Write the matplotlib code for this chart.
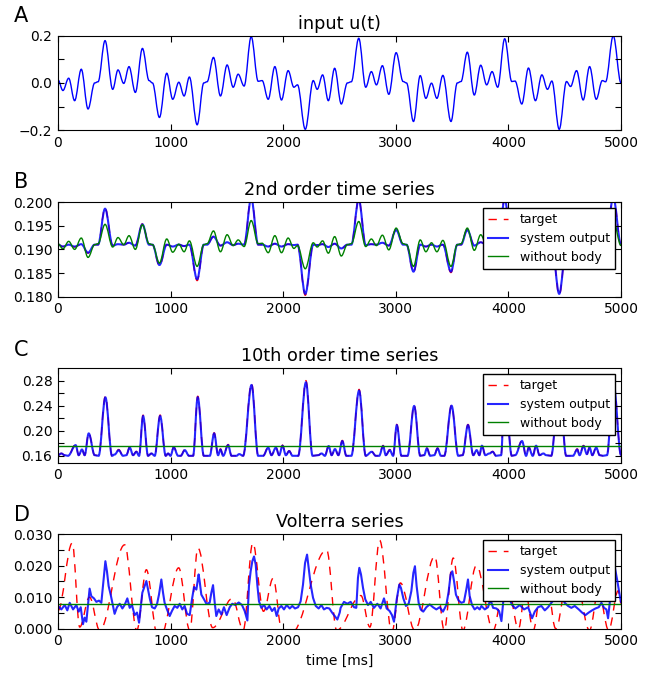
import matplotlib
matplotlib.use("Agg")
from matplotlib import pyplot as plt
from matplotlib.lines import Line2D
from matplotlib.patches import PathPatch
from matplotlib.path import Path

# ---- data ----
# times (ms) of the turning points of the input signal
t_u = [0, 44, 95, 148, 207, 267, 326, 356, 418, 486, 533, 584, 631, 687, 750, 809, 839, 901, 966, 1019,
       1073, 1120, 1167, 1236, 1295, 1324, 1381, 1443, 1502, 1556, 1600, 1653, 1716, 1778, 1813, 1867, 1926,
       1985, 2044, 2095, 2127, 2196, 2267, 2302, 2350, 2401, 2457, 2516, 2570, 2605, 2671, 2733, 2783, 2828,
       2881, 2938, 3003, 3065, 3095, 3157, 3217, 3267, 3317, 3365, 3418, 3490, 3546, 3579, 3635, 3697, 3754,
       3807, 3855, 3905, 3967, 4030, 4059, 4119, 4178, 4240, 4297, 4347, 4386, 4451, 4516, 4552, 4605, 4664,
       4721, 4780, 4834, 4863, 4931, 5000]
u_in = [0.013, -0.032, 0.020, -0.075, 0.058, -0.110, 0.000, 0.005, 0.179, -0.027, 0.055, -0.002, 0.069,
        -0.040, 0.146, 0.010, 0.000, -0.146, 0.041, -0.069, 0.003, -0.055, 0.025, -0.177, 0.000, 0.005, 0.108,
        -0.055, 0.076, -0.018, 0.037, -0.013, 0.196, 0.007, 0.010, -0.069, 0.069, -0.072, 0.052, -0.018,
        -0.008, -0.196, 0.010, -0.027, 0.034, -0.075, 0.062, -0.089, 0.000, 0.005, 0.189, -0.018, 0.048,
        -0.008, 0.073, -0.048, 0.128, 0.006, 0.000, -0.163, 0.031, -0.065, -0.001, -0.065, 0.032, -0.163,
        0.000, 0.006, 0.130, -0.051, 0.075, -0.008, 0.048, -0.018, 0.187, 0.006, 0.008, -0.089, 0.063, -0.075,
        0.034, -0.027, 0.008, -0.196, 0.006, -0.015, 0.052, -0.072, 0.069, -0.069, 0.010, 0.005, 0.199, 0.000]

# 2nd order series (same time points as the input)
b_output = [0.1910, 0.1906, 0.1910, 0.1906, 0.1911, 0.1893, 0.1910, 0.1910, 0.1986, 0.1908, 0.1911, 0.1910,
            0.1914, 0.1908, 0.1953, 0.1910, 0.1910, 0.1867, 0.1910, 0.1906, 0.1910, 0.1907, 0.1910, 0.1837,
            0.1910, 0.1910, 0.1927, 0.1908, 0.1915, 0.1909, 0.1912, 0.1910, 0.2008, 0.1910, 0.1910, 0.1906,
            0.1912, 0.1906, 0.1911, 0.1909, 0.1910, 0.1806, 0.1910, 0.1909, 0.1911, 0.1905, 0.1912, 0.1902,
            0.1910, 0.1910, 0.2005, 0.1909, 0.1911, 0.1910, 0.1914, 0.1908, 0.1941, 0.1910, 0.1910, 0.1853,
            0.1910, 0.1906, 0.1910, 0.1906, 0.1910, 0.1853, 0.1910, 0.1910, 0.1941, 0.1908, 0.1915, 0.1910,
            0.1911, 0.1909, 0.2005, 0.1910, 0.1910, 0.1902, 0.1912, 0.1905, 0.1911, 0.1908, 0.1910, 0.1806,
            0.1910, 0.1909, 0.1911, 0.1906, 0.1913, 0.1906, 0.1910, 0.1910, 0.2010, 0.1910]
b_target = [0.1910, 0.1906, 0.1910, 0.1905, 0.1911, 0.1892, 0.1910, 0.1910, 0.1988, 0.1908, 0.1911, 0.1910,
            0.1914, 0.1908, 0.1954, 0.1910, 0.1910, 0.1865, 0.1910, 0.1906, 0.1910, 0.1907, 0.1910, 0.1834,
            0.1910, 0.1910, 0.1927, 0.1908, 0.1915, 0.1909, 0.1912, 0.1910, 0.2010, 0.1910, 0.1910, 0.1906,
            0.1912, 0.1906, 0.1911, 0.1909, 0.1910, 0.1803, 0.1910, 0.1909, 0.1911, 0.1905, 0.1912, 0.1901,
            0.1910, 0.1910, 0.2007, 0.1909, 0.1911, 0.1910, 0.1914, 0.1908, 0.1942, 0.1910, 0.1910, 0.1851,
            0.1910, 0.1906, 0.1910, 0.1906, 0.1910, 0.1851, 0.1910, 0.1910, 0.1942, 0.1908, 0.1915, 0.1910,
            0.1911, 0.1909, 0.2007, 0.1910, 0.1910, 0.1901, 0.1912, 0.1905, 0.1911, 0.1908, 0.1910, 0.1803,
            0.1910, 0.1909, 0.1911, 0.1906, 0.1913, 0.1906, 0.1910, 0.1910, 0.2012, 0.1910]
b_nobody = [0.1912, 0.1901, 0.1917, 0.1900, 0.1924, 0.1883, 0.1910, 0.1912, 0.1953, 0.1905, 0.1925, 0.1910,
            0.1929, 0.1900, 0.1952, 0.1912, 0.1910, 0.1871, 0.1922, 0.1894, 0.1911, 0.1895, 0.1918, 0.1864,
            0.1910, 0.1912, 0.1939, 0.1895, 0.1931, 0.1908, 0.1920, 0.1906, 0.1961, 0.1912, 0.1913, 0.1893,
            0.1929, 0.1893, 0.1924, 0.1902, 0.1908, 0.1859, 0.1914, 0.1905, 0.1918, 0.1892, 0.1927, 0.1886,
            0.1910, 0.1912, 0.1959, 0.1906, 0.1922, 0.1908, 0.1930, 0.1899, 0.1945, 0.1912, 0.1910, 0.1864,
            0.1920, 0.1895, 0.1914, 0.1895, 0.1919, 0.1864, 0.1910, 0.1912, 0.1945, 0.1898, 0.1931, 0.1908,
            0.1924, 0.1905, 0.1960, 0.1912, 0.1913, 0.1886, 0.1927, 0.1892, 0.1919, 0.1903, 0.1912, 0.1859,
            0.1912, 0.1906, 0.1924, 0.1893, 0.1929, 0.1893, 0.1913, 0.1911, 0.1962, 0.1908]

# 10th order series
t_c = [0, 30, 59, 89, 157, 184, 213, 237, 273, 326, 361, 421, 480, 504, 539, 578, 607, 637, 667, 696, 720,
       756, 800, 830, 859, 907, 957, 978, 999, 1028, 1067, 1090, 1126, 1164, 1200, 1241, 1295, 1348, 1387,
       1422, 1443, 1467, 1511, 1541, 1585, 1609, 1644, 1719, 1778, 1822, 1867, 1896, 1935, 1964, 1994, 2024,
       2053, 2083, 2133, 2202, 2261, 2311, 2341, 2370, 2404, 2430, 2460, 2490, 2525, 2561, 2605, 2674, 2733,
       2786, 2822, 2852, 2887, 2911, 2947, 2976, 3009, 3050, 3104, 3163, 3217, 3252, 3276, 3306, 3341, 3371,
       3401, 3430, 3495, 3555, 3593, 3641, 3688, 3718, 3742, 3765, 3795, 3831, 3860, 3890, 3935, 3967, 4030,
       4060, 4121, 4157, 4181, 4216, 4246, 4276, 4311, 4335, 4380, 4451, 4513, 4573, 4611, 4632, 4667, 4697,
       4721, 4745, 4780, 4810, 4840, 4875, 4933, 5000]
c_output = [0.161, 0.1637, 0.161, 0.160, 0.177, 0.161, 0.170, 0.161, 0.1957, 0.161, 0.160, 0.2533, 0.160,
            0.1621, 0.169, 0.160, 0.161, 0.1733, 0.161, 0.1664, 0.160, 0.2235, 0.160, 0.1637, 0.160, 0.2235,
            0.160, 0.1637, 0.160, 0.1733, 0.160, 0.160, 0.169, 0.160, 0.160, 0.2533, 0.160, 0.160, 0.1957,
            0.161, 0.170, 0.160, 0.177, 0.160, 0.160, 0.1627, 0.160, 0.273, 0.160, 0.160, 0.173, 0.161, 0.173,
            0.161, 0.176, 0.161, 0.1675, 0.160, 0.160, 0.2773, 0.160, 0.161, 0.1637, 0.160, 0.1755, 0.161,
            0.1707, 0.161, 0.1835, 0.160, 0.160, 0.264, 0.160, 0.1664, 0.160, 0.160, 0.1755, 0.161, 0.169,
            0.160, 0.209, 0.160, 0.160, 0.2395, 0.160, 0.161, 0.1717, 0.160, 0.161, 0.1717, 0.160, 0.160,
            0.240, 0.160, 0.161, 0.209, 0.161, 0.169, 0.161, 0.176, 0.161, 0.1637, 0.1664, 0.160, 0.161, 0.272,
            0.160, 0.161, 0.1835, 0.160, 0.173, 0.160, 0.176, 0.161, 0.1637, 0.161, 0.160, 0.278, 0.160, 0.160,
            0.170, 0.161, 0.1755, 0.1627, 0.173, 0.161, 0.173, 0.161, 0.160, 0.161, 0.276, 0.161]
c_target = [0.161, 0.1639, 0.161, 0.160, 0.178, 0.161, 0.171, 0.161, 0.1967, 0.161, 0.160, 0.2553, 0.160,
            0.1621, 0.170, 0.160, 0.161, 0.1743, 0.161, 0.1670, 0.160, 0.2250, 0.160, 0.1637, 0.160, 0.2250,
            0.160, 0.1637, 0.160, 0.1743, 0.160, 0.160, 0.170, 0.160, 0.160, 0.2553, 0.160, 0.160, 0.1967,
            0.161, 0.171, 0.160, 0.178, 0.160, 0.160, 0.1627, 0.160, 0.276, 0.160, 0.160, 0.174, 0.161, 0.174,
            0.161, 0.177, 0.161, 0.1680, 0.160, 0.160, 0.2800, 0.160, 0.161, 0.1637, 0.160, 0.1765, 0.161,
            0.1715, 0.161, 0.1845, 0.160, 0.160, 0.266, 0.160, 0.1670, 0.160, 0.160, 0.1765, 0.161, 0.170,
            0.160, 0.210, 0.160, 0.160, 0.2410, 0.160, 0.161, 0.1725, 0.160, 0.161, 0.1725, 0.160, 0.160,
            0.241, 0.160, 0.161, 0.210, 0.161, 0.170, 0.161, 0.177, 0.161, 0.1637, 0.1670, 0.160, 0.161, 0.275,
            0.160, 0.161, 0.1845, 0.160, 0.174, 0.160, 0.177, 0.161, 0.1637, 0.161, 0.160, 0.281, 0.160, 0.160,
            0.171, 0.161, 0.1765, 0.1627, 0.174, 0.161, 0.174, 0.161, 0.160, 0.161, 0.279, 0.161]
c_nobody = 0.1757

# Volterra series (values x 1e-3)
t_d = [0, 30, 60, 83, 104, 134, 163, 184, 202, 222, 237, 252, 267, 281, 296, 320, 341, 364, 385, 406, 421,
       435, 450, 468, 489, 503, 524, 548, 572, 592, 616, 637, 657, 681, 702, 720, 734, 749, 770, 785, 800, 817,
       835, 859, 879, 897, 918, 933, 947, 968, 992, 1012, 1036, 1060, 1081, 1104, 1125, 1146, 1170, 1190, 1208,
       1229, 1249, 1258, 1273, 1297, 1318, 1347, 1362, 1377, 1392, 1406, 1427, 1451, 1474, 1498, 1525, 1548,
       1575, 1605, 1634, 1658, 1682, 1696, 1711, 1726, 1741, 1756, 1770, 1785, 1806, 1830, 1853, 1877, 1901,
       1924, 1942, 1960, 1984, 2007, 2031, 2058, 2081, 2105, 2132, 2155, 2176, 2194, 2212, 2226, 2244, 2265,
       2289, 2315, 2339, 2362, 2386, 2410, 2434, 2457, 2481, 2502, 2510, 2540, 2569, 2599, 2629, 2649, 2664,
       2676, 2691, 2709, 2729, 2753, 2777, 2806, 2836, 2865, 2895, 2919, 2945, 2966, 2984, 3008, 3031, 3046,
       3067, 3090, 3114, 3138, 3156, 3170, 3185, 3203, 3221, 3244, 3271, 3301, 3330, 3360, 3389, 3419, 3449,
       3469, 3487, 3502, 3517, 3534, 3558, 3582, 3605, 3626, 3641, 3656, 3677, 3700, 3724, 3745, 3760, 3790,
       3819, 3840, 3864, 3893, 3917, 3938, 3956, 3973, 3991, 4009, 4033, 4062, 4101, 4139, 4175, 4192, 4210,
       4234, 4263, 4293, 4323, 4352, 4382, 4405, 4426, 4441, 4459, 4477, 4500, 4530, 4559, 4589, 4625, 4654,
       4684, 4713, 4743, 4773, 4802, 4826, 4849, 4870, 4885, 4903, 4923, 4944, 4968, 4992, 5000]
d_output = [7.2, 6.1, 7.5, 5.8, 8.2, 6.1, 7.5, 5.4, 6.8, 1.4, 3.5, 2.2, 7.7, 12.7, 10.3, 9.6, 8.5, 8.9, 8.2,
            16.1, 21.4, 18.2, 13.5, 10.8, 7.2, 4.7, 6.8, 7.9, 6.4, 7.5, 9.6, 6.6, 7.5, 4.3, 5.1, 1.9, 6.6, 11.4,
            13.5, 15.1, 12.4, 9.3, 6.8, 6.4, 7.7, 10.8, 15.6, 11.4, 8.2, 6.1, 4.0, 5.6, 7.2, 6.6, 7.9, 6.1, 7.2,
            4.7, 4.3, 9.3, 13.2, 12.4, 17.2, 15.1, 10.8, 9.3, 7.9, 8.2, 11.4, 13.8, 8.2, 4.0, 6.1, 4.5, 6.8, 4.3,
            6.8, 7.9, 7.5, 8.3, 7.5, 5.6, 2.6, 13.5, 18.2, 21.4, 22.9, 20.3, 14.0, 8.7, 6.6, 7.5, 6.1, 7.2, 5.6,
            6.6, 4.0, 6.4, 7.2, 6.1, 7.5, 6.4, 7.2, 6.4, 6.8, 8.7, 14.0, 20.8, 23.5, 19.3, 14.0, 9.8, 7.2, 6.4,
            7.5, 6.1, 6.6, 6.4, 5.1, 4.0, 2.9, 5.1, 6.6, 8.5, 7.9, 8.5, 6.8, 6.6, 16.1, 19.3, 17.2, 12.9, 9.3,
            7.5, 8.5, 6.6, 7.9, 6.4, 9.6, 6.4, 5.6, 4.3, 2.2, 9.3, 14.0, 12.9, 9.6, 7.2, 7.9, 11.9, 17.7, 19.8,
            13.5, 8.2, 6.1, 5.4, 6.8, 7.7, 6.8, 6.1, 6.8, 5.4, 7.5, 11.7, 17.2, 18.2, 15.1, 10.8, 8.9, 8.2, 8.5,
            12.4, 15.6, 10.3, 7.5, 6.1, 6.8, 6.1, 7.2, 6.1, 6.8, 9.3, 6.6, 6.4, 5.6, 2.4, 9.3, 17.5, 13.0, 9.5,
            7.5, 6.4, 7.5, 6.1, 6.8, 5.1, 3.3, 5.4, 6.8, 7.2, 5.8, 6.8, 8.2, 9.3, 16.0, 21.0, 17.0, 10.0, 8.2,
            7.2, 6.6, 7.2, 6.1, 5.1, 4.3, 5.1, 5.8, 6.4, 6.8, 8.2, 6.6, 6.1, 3.3, 9.3, 15.0, 19.7, 15.0, 9.8, 8.5]
t_d_target = [0, 127, 193, 280, 370, 592, 700, 785, 880, 920, 1072, 1170, 1243, 1374, 1550, 1645, 1730, 1825,
              1911, 1990, 2070, 2386, 2475, 2690, 2770, 2857, 2965, 3041, 3168, 3346, 3430, 3510, 3596, 3715,
              3865, 3975, 4090, 4150, 4220, 4320, 4420, 4560, 4720, 4800, 4890, 4975, 5000]
d_target = [5.7, 27.2, 0.5, 10.0, -0.5, 26.6, -0.5, 18.7, -1.5, -1.5, 19.3, -0.5, 25.6, 0.3, 9.6, -0.5, 27.2,
            5.5, 16.0, -1.0, -1.5, 25.0, -0.5, 10.5, 0.5, 28.0, -1.0, 14.5, -0.5, 23.0, -0.5, 22.4, -0.5, 20.0,
            -0.5, 18.0, 0.0, 12.0, -0.5, 22.0, 0.0, 25.0, -0.5, 12.0, -0.5, 12.0, 8.0]
d_nobody = 7.9


def smooth_line(ax, t, y, **kw):
    # draw the turning points joined by bezier segments with flat tangents
    verts = [(t[0], y[0])]
    codes = [Path.MOVETO]
    for i in range(1, len(t)):
        dt = t[i] - t[i - 1]
        verts += [(t[i - 1] + 0.36 * dt, y[i - 1]), (t[i] - 0.36 * dt, y[i]), (t[i], y[i])]
        codes += [Path.CURVE4] * 3
    ax.add_patch(PathPatch(Path(verts, codes), fill=False, **kw))


plt.rcParams.update({
    "font.size": 10,
    "xtick.direction": "in", "ytick.direction": "in",
    "xtick.top": True, "ytick.right": True,
    "xtick.major.size": 4, "ytick.major.size": 4,
    "xtick.major.pad": 4, "ytick.major.pad": 4,
})

fig = plt.figure(figsize=(6.58, 6.73), dpi=100)
left, width, height = 0.0881, 0.8557, 0.1405
bottoms = [0.8065, 0.5592, 0.3125, 0.0659]
axes = [fig.add_axes([left, b, width, height]) for b in bottoms]

red_kw = dict(edgecolor="r", lw=1.0, linestyle=(0, (6, 5)))
blue_kw = dict(edgecolor="b", lw=1.5, alpha=0.85)
green_kw = dict(edgecolor="g", lw=1.0)
handles = [Line2D([], [], color="r", lw=1.0, dashes=(6, 5), label="target"),
           Line2D([], [], color="b", lw=1.5, alpha=0.85, label="system output"),
           Line2D([], [], color="g", lw=1.0, label="without body")]
leg_kw = dict(handles=handles, loc="upper right", fontsize=9, fancybox=False, framealpha=1,
              edgecolor="k", handlelength=1.6, handletextpad=0.9, borderpad=0.4, labelspacing=0.45,
              borderaxespad=0.5)

# A: input
ax = axes[0]
smooth_line(ax, t_u, u_in, edgecolor="b", lw=1.0)
ax.set_ylim(-0.2, 0.2)
ax.set_yticks([-0.2, -0.1, 0.0, 0.1, 0.2])
ax.set_yticklabels(["\u22120.2", "", "0.0", "", "0.2"])
ax.set_title("input u(t)", fontsize=12.7, pad=5)

# B: 2nd order
ax = axes[1]
smooth_line(ax, t_u, b_target, **red_kw)
smooth_line(ax, t_u, b_output, **blue_kw)
smooth_line(ax, t_u, b_nobody, **green_kw)
ax.set_ylim(0.18, 0.20)
ax.set_yticks([0.180, 0.185, 0.190, 0.195, 0.200])
ax.set_yticklabels(["0.180", "0.185", "0.190", "0.195", "0.200"])
ax.set_title("2nd order time series", fontsize=12.7, pad=5)
ax.legend(**leg_kw)

# C: 10th order
ax = axes[2]
smooth_line(ax, t_c, c_target, **red_kw)
smooth_line(ax, t_c, c_output, **blue_kw)
ax.axhline(c_nobody, color="g", lw=1.0)
ax.set_ylim(0.149, 0.300)
ax.set_yticks([0.16, 0.18, 0.20, 0.22, 0.24, 0.26, 0.28])
ax.set_yticklabels(["0.16", "", "0.20", "", "0.24", "", "0.28"])
ax.set_title("10th order time series", fontsize=12.7, pad=5)
ax.legend(**leg_kw)

# D: Volterra
ax = axes[3]
smooth_line(ax, t_d_target, [v * 1e-3 for v in d_target], **red_kw)
ax.plot(t_d, [v * 1e-3 for v in d_output], color="b", lw=1.5, alpha=0.85)
ax.axhline(d_nobody * 1e-3, color="g", lw=1.0)
ax.set_ylim(0.0, 0.03)
ax.set_yticks([0.0, 0.005, 0.010, 0.015, 0.020, 0.025, 0.030])
ax.set_yticklabels(["0.000", "", "0.010", "", "0.020", "", "0.030"])
ax.set_title("Volterra series", fontsize=12.7, pad=5)
ax.set_xlabel("time [ms]")
ax.legend(**leg_kw)

for ax in axes:
    ax.set_xlim(0, 5000)
    ax.set_xticks([0, 1000, 2000, 3000, 4000, 5000])

for letter, y in zip("ABCD", [21.7, 188.0, 356.0, 520.7]):
    fig.text(14 / 658, 1 - y / 673, letter, fontsize=15, va="baseline", ha="left")

fig.savefig("out.png", dpi=100)
